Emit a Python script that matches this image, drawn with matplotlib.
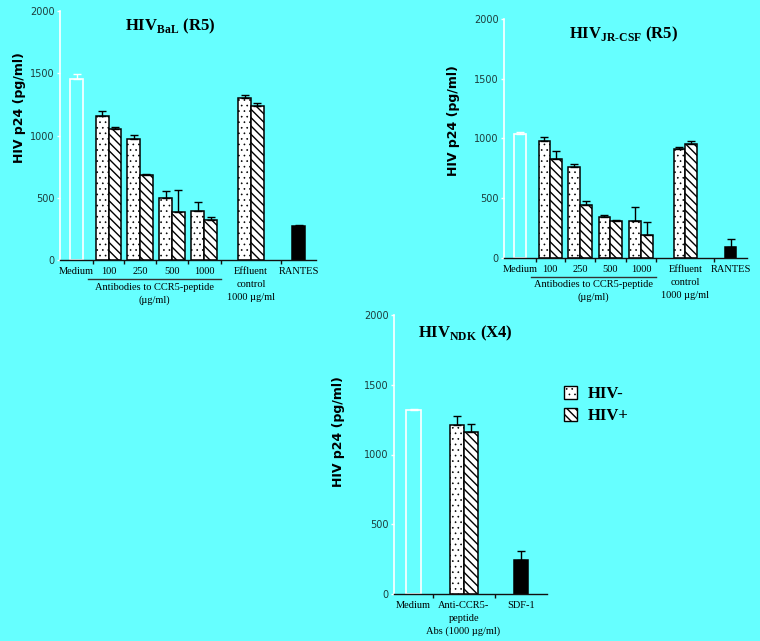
"""Recreate the three-panel HIV p24 bar figure (BaL, JR-CSF, NDK)."""

import matplotlib
matplotlib.use("Agg")
import matplotlib.pyplot as plt
import matplotlib.patches as mpatches
import numpy as np

BG = "#66ffff"

# ---- data (pg/ml) ----
conc_labels = ["100", "250", "500", "1000"]

bal_medium, bal_medium_err = 1450, 45
bal_neg = [1160, 970, 495, 390, 1298]        # 100, 250, 500, 1000, effluent
bal_neg_err = [40, 32, 62, 72, 30]
bal_pos = [1052, 683, 386, 324, 1234]
bal_pos_err = [19, 5, 174, 24, 30]
bal_ctrl, bal_ctrl_err = 273, 8               # RANTES

jr_medium, jr_medium_err = 1035, 22
jr_neg = [976, 759, 345, 309, 915]
jr_neg_err = [36, 25, 17, 114, 17]
jr_pos = [829, 442, 309, 195, 954]
jr_pos_err = [67, 36, 5, 103, 22]
jr_ctrl, jr_ctrl_err = 89, 70                 # RANTES

ndk_medium, ndk_medium_err = 1319, 5
ndk_neg, ndk_neg_err = [1209], [67]
ndk_pos, ndk_pos_err = [1164], [52]
ndk_ctrl, ndk_ctrl_err = 244, 62              # SDF-1

r5_labels = ["Medium"] + conc_labels + ["Effluent\ncontrol\n1000 \u00b5g/ml", "RANTES"]
x4_labels = ["Medium", "Anti-CCR5-\npeptide", "SDF-1"]
x4_note = "Abs (1000 \u00b5g/ml)"

plt.rcParams["mathtext.fontset"] = "custom"
plt.rcParams["mathtext.rm"] = "Liberation Serif"
plt.rcParams["mathtext.bf"] = "Liberation Serif:bold"
plt.rcParams["hatch.linewidth"] = 1.0

SERIF = "Liberation Serif"
DOTS = "..."
STRIPES = "\\\\\\\\"
DOT_LW = 0.45


def thin_hatch(patches, lw):
    for p in patches:
        if hasattr(p, "set_hatch_linewidth"):
            p.set_hatch_linewidth(lw)


def style_axes(ax, bounds, labels):
    ax.set_facecolor("none")
    ax.set_ylim(0, 2000)
    ax.set_xlim(0, 1)
    ax.set_yticks([0, 500, 1000, 1500, 2000])
    for s in ("top", "right"):
        ax.spines[s].set_visible(False)
    ax.spines["left"].set_color("white")
    ax.spines["left"].set_linewidth(1.2)
    ax.spines["bottom"].set_color("#111111")
    ax.spines["bottom"].set_linewidth(1.0)
    ax.tick_params(axis="y", colors="white", labelcolor="#1e3c3c", length=2.5,
                   width=1, labelsize=7, pad=1.5)
    centers = [(a + b) / 2 for a, b in zip(bounds[:-1], bounds[1:])]
    ax.set_xticks(centers)
    ax.set_xticklabels(labels, family=SERIF, fontsize=7.5, va="top",
                       linespacing=1.55)
    ax.tick_params(axis="x", which="major", length=0, pad=5)
    ax.set_xticks(bounds[1:-1], minor=True)
    ax.tick_params(axis="x", which="minor", length=3, width=1, color="#111111")
    ax.xaxis.get_minor_ticks()[0].tick1line.set_color("white")
    return centers


def draw_bars(ax, centers, width, medium, medium_err, neg, neg_err,
              pos, pos_err, ctrl, ctrl_err):
    ek = dict(fmt="none", capsize=3, elinewidth=1.0, capthick=1.0)
    ax.bar(centers[0], medium, width, facecolor="none", edgecolor="white",
           linewidth=1.2)
    ax.errorbar(centers[0], medium, yerr=[[0], [medium_err]], ecolor="white", **ek)

    mids = np.array(centers[1:1 + len(neg)])
    xn = mids - width / 2
    xp = mids + width / 2
    dotted = ax.bar(xn, neg, width, color="white", edgecolor="black",
                    linewidth=1.1, hatch=DOTS)
    thin_hatch(dotted, DOT_LW)
    ax.bar(xp, pos, width, color="white", edgecolor="black", linewidth=1.1,
           hatch=STRIPES)
    ax.errorbar(xn, neg, yerr=[np.zeros(len(neg)), neg_err], ecolor="black", **ek)
    ax.errorbar(xp, pos, yerr=[np.zeros(len(pos)), pos_err], ecolor="black", **ek)

    ax.bar(centers[-1], ctrl, width, color="black", edgecolor="black",
           linewidth=1.1)
    ax.errorbar(centers[-1], ctrl, yerr=[[0], [ctrl_err]], ecolor="black", **ek)


def add_titles(ax, sub, tag, tx, ty, ly, lx):
    ax.text(tx, ty, r"$\mathbf{HIV}_{\mathbf{" + sub + "}}$ " + tag,
            transform=ax.transAxes, ha="center", va="center", family=SERIF,
            fontweight="bold", fontsize=12)
    ax.text(lx, ly, "HIV p24 (pg/ml)", transform=ax.transAxes, rotation=90,
            ha="center", va="center", fontweight="bold", fontsize=9,
            family="DejaVu Sans")


def antibody_group(ax, bounds):
    x0, x1 = bounds[1] - 0.02, bounds[5]
    trans = ax.get_xaxis_transform()
    ax.plot([x0, x1], [-0.078, -0.078], color="#333333", lw=1.0,
            transform=trans, clip_on=False)
    ax.text((x0 + x1) / 2, -0.093, "Antibodies to CCR5-peptide\n(\u00b5g/ml)",
            transform=trans, ha="center", va="top", family=SERIF, fontsize=7.5,
            linespacing=1.45)


def main():
    W, H = 760, 641
    fig = plt.figure(figsize=(W / 100, H / 100), dpi=100, facecolor=BG)

    def px_axes(left, top, right, bottom):
        return fig.add_axes([left / W, 1 - bottom / H, (right - left) / W,
                             (bottom - top) / H])

    r5_bounds = [0, 0.13, 0.25, 0.375, 0.5, 0.627, 0.865, 1.0]

    ax1 = px_axes(60, 11, 316, 260)
    c1 = style_axes(ax1, r5_bounds, r5_labels)
    draw_bars(ax1, c1, 0.05, bal_medium, bal_medium_err, bal_neg, bal_neg_err,
              bal_pos, bal_pos_err, bal_ctrl, bal_ctrl_err)
    antibody_group(ax1, r5_bounds)
    add_titles(ax1, "BaL", "(R5)", 0.43, 0.94, 0.614, -41 / 256)

    ax2 = px_axes(504, 19, 747, 258)
    c2 = style_axes(ax2, r5_bounds, r5_labels)
    draw_bars(ax2, c2, 0.048, jr_medium, jr_medium_err, jr_neg, jr_neg_err,
              jr_pos, jr_pos_err, jr_ctrl, jr_ctrl_err)
    antibody_group(ax2, r5_bounds)
    add_titles(ax2, "JR\u2010CSF", "(R5)", 0.49, 0.936, 0.573, -50 / 243)

    x4_bounds = [0, 0.255, 0.66, 1.0]
    ax3 = px_axes(394, 315, 547, 594)
    c3 = style_axes(ax3, x4_bounds, x4_labels)
    draw_bars(ax3, c3, 0.092, ndk_medium, ndk_medium_err, ndk_neg, ndk_neg_err,
              ndk_pos, ndk_pos_err, ndk_ctrl, ndk_ctrl_err)
    ax3.text(0.45, -0.115, x4_note, transform=ax3.transAxes, ha="center",
             va="top", family=SERIF, fontsize=7.5)
    add_titles(ax3, "NDK", "(X4)", 0.464, 0.935, 0.584, -55 / 153)

    handles = [
        mpatches.Patch(facecolor="white", edgecolor="black", hatch=DOTS, label="HIV-"),
        mpatches.Patch(facecolor="white", edgecolor="black", hatch=STRIPES, label="HIV+"),
    ]
    thin_hatch(handles[:1], DOT_LW)
    leg = fig.legend(handles=handles, loc="upper left",
                     bbox_to_anchor=(564 / W, 1 - 386 / H), frameon=False,
                     borderpad=0, borderaxespad=0, handlelength=0.8,
                     handleheight=0.8, handletextpad=0.6, labelspacing=0.35,
                     prop={"family": SERIF, "weight": "bold", "size": 12})
    thin_hatch(leg.get_patches()[:1], DOT_LW)

    fig.savefig("out.png", dpi=100, facecolor=BG)


if __name__ == "__main__":
    main()
